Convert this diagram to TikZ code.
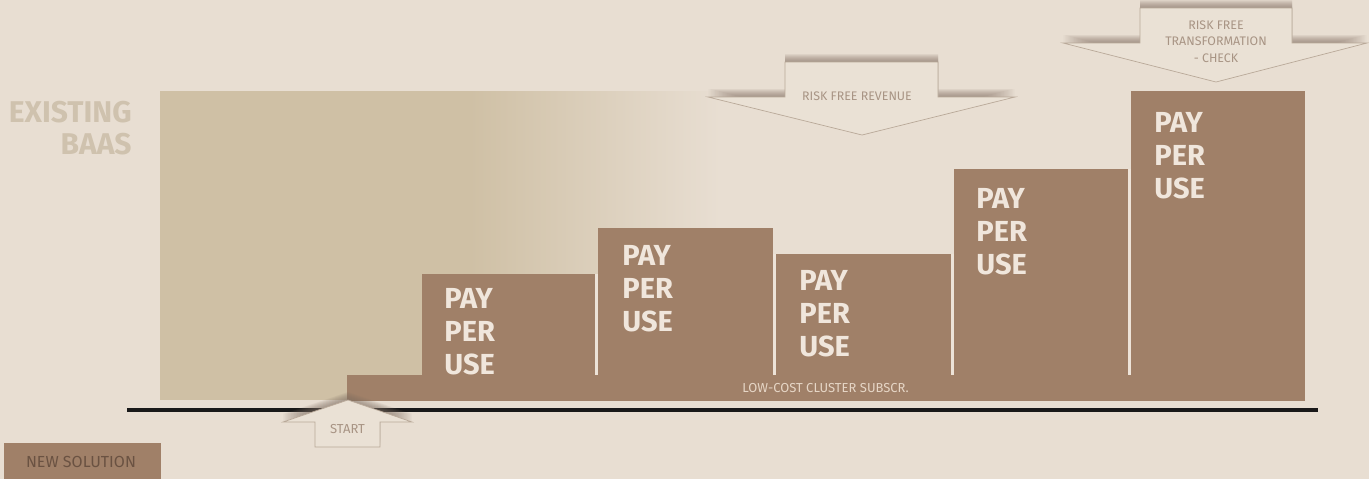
\documentclass[tikz,border=0pt]{standalone}
\usepackage{fontspec}
\setmainfont{Fira Sans}

\definecolor{bgCream}{HTML}{E8DED2}
\definecolor{oldBeige}{HTML}{CFC0A5}
\definecolor{oldText}{HTML}{CFC2AE}
\definecolor{payBrown}{HTML}{A08068}
\definecolor{payText}{HTML}{F0E6DC}
\definecolor{sepLight}{HTML}{EDE3D8}
\definecolor{subText}{HTML}{E6D6C6}
\definecolor{hintText}{HTML}{A89484}
\definecolor{arrowFill}{HTML}{EAE1D5}
\definecolor{arrowLine}{HTML}{B9A999}
\definecolor{shadowGrey}{HTML}{7E6E62}
\definecolor{newText}{HTML}{6A5242}

\begin{document}
\begin{tikzpicture}[x=0.5pt, y=-0.5pt,
  ppu/.style={text=payText, font=\bfseries\fontsize{14.5}{16}\selectfont, inner sep=0pt, anchor=base west},
  oldtxt/.style={text=oldText, font=\bfseries\fontsize{15}{16}\selectfont, inner sep=0pt, anchor=base east},
  sepline/.style={draw=sepLight, line width=1.25pt},
  hintarrow/.style={fill=arrowFill, draw=arrowLine, line width=0.35pt, line join=miter},
  arrowshadow/.style={fill=shadowGrey, opacity=0.1},
  hinttxt/.style={text=hintText, font=\fontsize{6.2}{8.25}\selectfont, inner sep=0pt},
  subtxt/.style={text=subText, font=\fontsize{6.5}{8}\selectfont, inner sep=0pt, anchor=base},
]
  \useasboundingbox (0,0) rectangle (1369,479);
  % background
  \fill[bgCream] (0,0) rectangle (1369,479);
  % faded block of the existing service
  \fill[oldBeige] (160,91) rectangle (472,400);
  \shade[left color=oldBeige, right color=bgCream] (470,91) rectangle (720,375);
  \node[oldtxt] (exist) at (132,122) {EXISTING};
  \node[oldtxt] (baas) at (132,154) {BAAS};

  % ground line
  \draw[line width=2pt, black!90] (127,410) -- (1318,410);

  % base subscription bar
  \fill[payBrown] (347,375) rectangle (1305,401);
  \node[subtxt] (lowcost) at (825.5,392) {LOW-COST CLUSTER SUBSCR.};
  % pay per use steps
  \foreach \l/\r/\t in {422/595/274, 597.5/773/228, 775.5/951/254, 953.5/1128/169, 1130.5/1305/91}
    \fill[payBrown] (\l,\t) rectangle (\r,376);
  % light gaps between the steps
  \foreach \x/\t in {596.3/274, 774.3/254, 952.3/254, 1129.3/169}
    \draw[sepline] (\x,\t) -- (\x,375);
  \foreach \x/\y [count=\i] in {444/308, 622/265, 799/290, 976/208, 1154/132} {
    \node[ppu] (pay\i) at (\x,\y) {PAY};
    \node[ppu] (per\i) at (\x,{\y+33}) {PER};
    \node[ppu] (use\i) at (\x,{\y+66}) {USE};
  }

  % risk free revenue arrow
  \foreach \s in {1,...,8}
    \fill[arrowshadow, yshift=\s*0.5pt] (785,62) -- (938,62) -- (938,97) -- (1015,97) -- (862,135) -- (708,97) -- (785,97) -- cycle;
  \draw[hintarrow] (785,62) -- (938,62) -- (938,97) -- (1015,97) -- (862,135) -- (708,97) -- (785,97) -- cycle;
  \node[hinttxt, anchor=base] (revenue) at (857,100) {RISK FREE REVENUE};

  % risk free transformation arrow
  \foreach \s in {1,...,8}
    \fill[arrowshadow, yshift=\s*0.5pt] (1140,8) -- (1292,8) -- (1292,43) -- (1367,43) -- (1216,82) -- (1063,43) -- (1140,43) -- cycle;
  \draw[hintarrow] (1140,8) -- (1292,8) -- (1292,43) -- (1367,43) -- (1216,82) -- (1063,43) -- (1140,43) -- cycle;
  \node[hinttxt, anchor=north, align=center] (transform) at (1216,20) {RISK FREE\\TRANSFORMATION\\- CHECK};

  % start arrow
  \foreach \s in {1,...,8}
    \fill[arrowshadow, yshift=\s*0.5pt] (348,400) -- (412,422) -- (380,422) -- (380,447) -- (315,447) -- (315,422) -- (283,422) -- cycle;
  \draw[hintarrow] (348,400) -- (412,422) -- (380,422) -- (380,447) -- (315,447) -- (315,422) -- (283,422) -- cycle;
  \node[hinttxt, anchor=base, font=\fontsize{6.5}{8}\selectfont] (start) at (347.5,433) {START};

  % legend
  \fill[payBrown] (4,443) rectangle (161,479);
  \node[text=newText, font=\fontsize{8}{9}\selectfont, inner sep=0pt, anchor=base] (newsol) at (81,467) {NEW SOLUTION};
\end{tikzpicture}
\end{document}
